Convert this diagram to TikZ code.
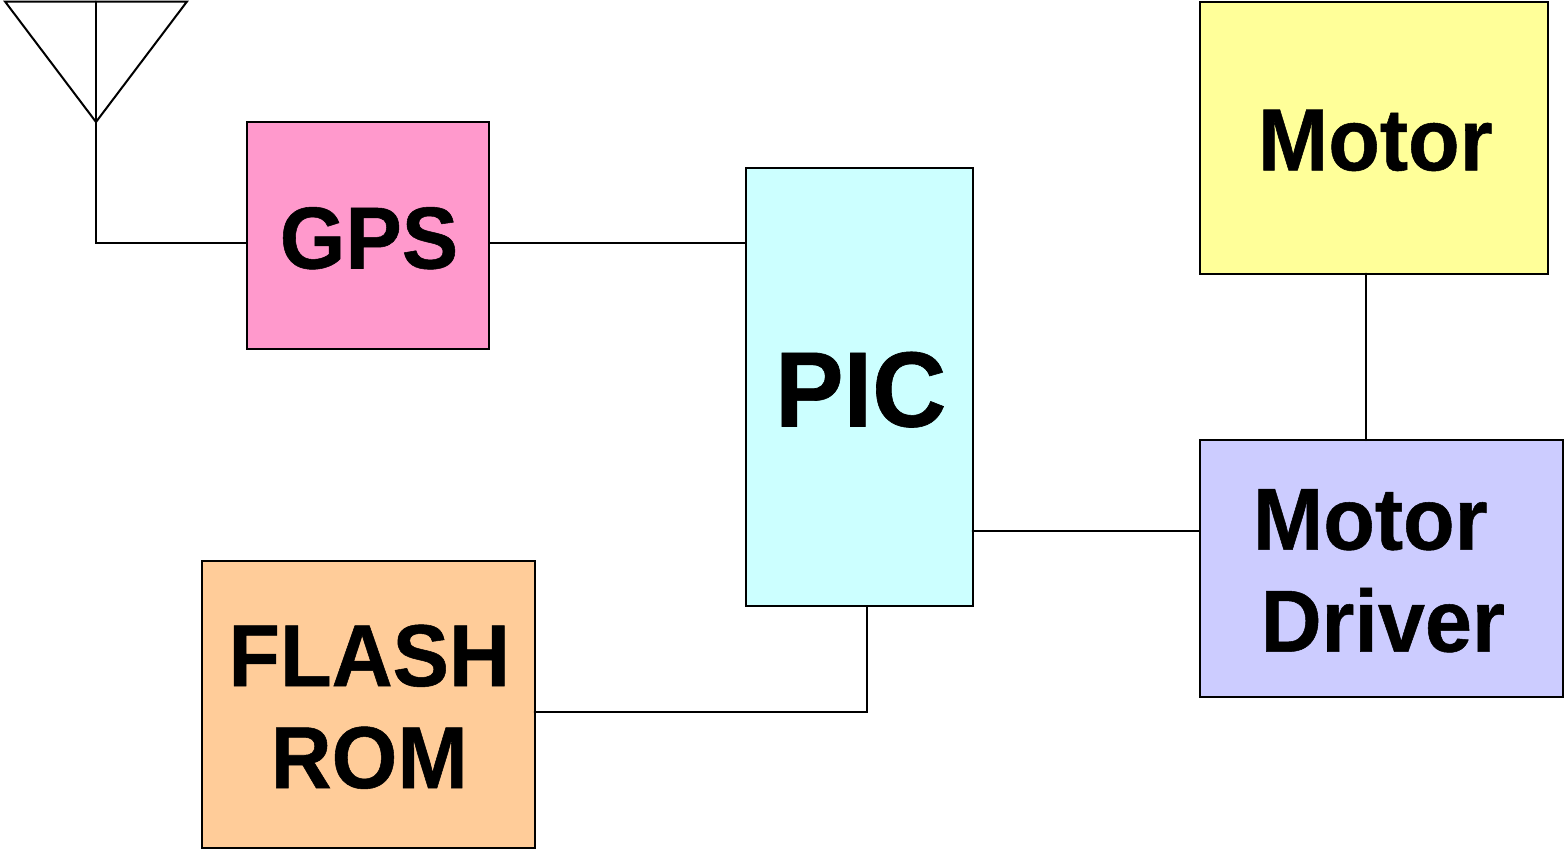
\documentclass[tikz,border=0pt]{standalone}
\usepackage{fontspec}
\setmainfont{Liberation Sans}
\newfontfamily\lab[FakeStretch=0.96,FakeBold=0.6]{Liberation Sans Bold}
\definecolor{gpsc}{RGB}{255,153,204}
\definecolor{picc}{RGB}{204,255,255}
\definecolor{motc}{RGB}{255,255,153}
\definecolor{drvc}{RGB}{204,204,255}
\definecolor{romc}{RGB}{255,204,153}
\begin{document}
\begin{tikzpicture}[x=1pt,y=-1pt,
  block/.style={draw=black,line width=2pt,inner sep=0pt,outer sep=0pt,anchor=north west,align=center,font=\fontsize{88}{102}\selectfont\lab},
  wire/.style={draw=black,line width=2pt,line cap=round,line join=miter}]
\useasboundingbox (0,0) rectangle (1564,849);
\fill[white] (0,0) rectangle (1564,849);
\node[block,fill=gpsc,minimum width=242.5pt,minimum height=227pt,text height=66pt,text depth=0pt] (gps) at (246.7,122) {\hspace*{2pt}GPS};
\node[block,fill=picc,minimum width=227pt,minimum height=438pt,text height=79pt,text depth=0pt,font=\fontsize{107}{120}\selectfont\lab] (pic) at (745.7,168) {\hspace*{3pt}PIC};
\node[block,fill=motc,minimum width=348pt,minimum height=271.6pt,text height=65pt,text depth=0pt] (motor) at (1199.7,2) {\hspace*{3pt}Motor};
\node[block,fill=drvc,minimum width=363pt,minimum height=257pt] (driver) at (1199.7,440) {\rule{0pt}{65pt}\hspace*{-22pt}Motor\\\hspace*{3pt}Driver};
\node[block,fill=romc,minimum width=333pt,minimum height=287pt] (rom) at (201.7,561) {\rule{0pt}{66pt}\hspace*{2pt}FLASH\\\hspace*{2pt}ROM};
\coordinate (ant-l) at (5,1.5);
\coordinate (ant-r) at (187,1.5);
\coordinate (ant-t) at (96,1.5);
\coordinate (ant-b) at (96,122);
\coordinate (bend1) at (96,243);
\coordinate (bend2) at (867.2,712.2);
\draw[wire] (ant-l) -- (ant-r) -- (ant-b) -- cycle;
\draw[wire] (ant-t) -- (ant-b) -- (bend1) -- (bend1 -| gps.west);
\draw[wire] (bend1 -| gps.east) -- (bend1 -| pic.west);
\draw[wire] (pic.east |- 0,531) -- (driver.west |- 0,531);
\draw[wire] (motor.south -| 1366.2,0) -- (driver.north -| 1366.2,0);
\draw[wire] (bend2 |- pic.south) -- (bend2) -- (bend2 -| rom.east);
\end{tikzpicture}
\end{document}
